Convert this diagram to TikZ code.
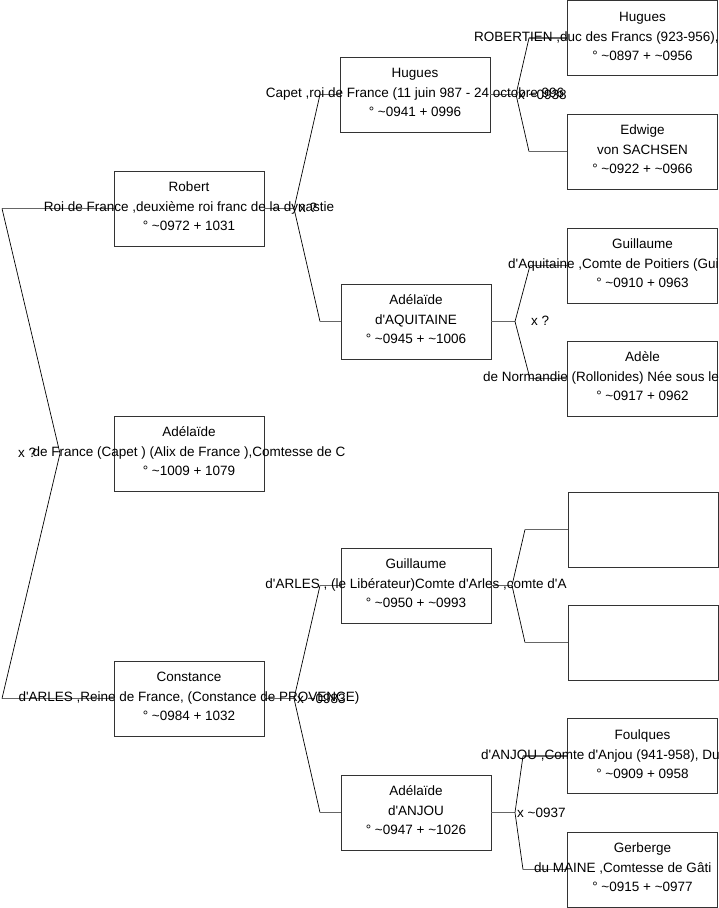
\documentclass[tikz,border=0pt]{standalone}
\usepackage{fontspec}
\setmainfont{Liberation Sans}[Ligatures=TeXOff]
\begin{document}
\begin{tikzpicture}[x=1pt,y=-1pt,
  box/.style={draw=black!80, line width=0.8pt, minimum width=150pt, minimum height=75pt, inner sep=0pt},
  txt/.style={font=\fontsize{13.5}{15}\selectfont, inner sep=0pt, anchor=base},
  txtw/.style={font=\fontsize{13.5}{15}\selectfont, inner sep=0pt, anchor=base west},
  stub/.style={draw=black!60, line width=1.5pt},
  diag/.style={draw=black, line width=0.7pt},
  lbl/.style={font=\fontsize{13.5}{15}\selectfont, inner sep=0pt, anchor=base west}]
\useasboundingbox (0,0) rectangle (719,908);
\clip (0,0) rectangle (719,908);

% boxes
\node[box] (robert)    at (189,208.5) {};
\node[box] (adel)      at (189,453.5) {};
\node[box] (constance) at (189,698.5) {};
\node[box] (huguesC)   at (415,94.5) {};
\node[box] (aquit)     at (416,321.5) {};
\node[box] (garles)    at (416,585.5) {};
\node[box] (anjou)     at (416,812.5) {};
\node[box] (huguesR)   at (642.5,38) {};
\node[box] (edwige)    at (642.5,151.5) {};
\node[box] (gaquit)    at (642.5,265.5) {};
\node[box] (adele)     at (642.5,378.5) {};
\node[box] (empty1)    at (643,529.5) {};
\node[box] (empty2)    at (643,642.5) {};
\node[box] (foulques)  at (642.5,756) {};
\node[box] (gerberge)  at (642.5,869.5) {};

% root bracket
\coordinate (za) at (60,453.5);
\coordinate (zt) at (2,208.5);
\coordinate (zb) at (2,698.5);
\draw[stub] (zt) -- (robert.west);
\draw[stub] (zb) -- (constance.west);
\draw[diag] (zt) -- (za) -- (zb);

% Robert's parents
\coordinate (ra) at (294,208.5);
\coordinate (rt) at (320,94.5);
\coordinate (rb) at (320,321.5);
\draw[stub] (robert.east) -- (ra);
\draw[diag] (rt) -- (ra) -- (rb);
\draw[stub] (rt) -- (huguesC.west);
\draw[stub] (rb) -- (aquit.west);

% Constance's parents
\coordinate (ca) at (294,698.5);
\coordinate (ct) at (320,585.5);
\coordinate (cb) at (320,812.5);
\draw[stub] (constance.east) -- (ca);
\draw[diag] (ct) -- (ca) -- (cb);
\draw[stub] (ct) -- (garles.west);
\draw[stub] (cb) -- (anjou.west);

% Hugues Capet's parents
\coordinate (ha) at (516,94.5);
\coordinate (ht) at (529,38);
\coordinate (hb) at (529,151.5);
\draw[stub] (huguesC.east) -- (ha);
\draw[diag] (ht) -- (ha) -- (hb);
\draw[stub] (ht) -- (huguesR.west);
\draw[stub] (hb) -- (edwige.west);

% Adelaide d'Aquitaine's parents
\coordinate (aa) at (515,321.5);
\coordinate (at1) at (530,265.5);
\coordinate (ab) at (530,378.5);
\draw[stub] (aquit.east) -- (aa);
\draw[diag] (at1) -- (aa) -- (ab);
\draw[stub] (at1) -- (gaquit.west);
\draw[stub] (ab) -- (adele.west);

% Guillaume d'Arles's parents
\coordinate (ga) at (512,585.5);
\coordinate (gt) at (525,529.5);
\coordinate (gb) at (525,642.5);
\draw[stub] (garles.east) -- (ga);
\draw[diag] (gt) -- (ga) -- (gb);
\draw[stub] (gt) -- (empty1.west);
\draw[stub] (gb) -- (empty2.west);

% Adelaide d'Anjou's parents
\coordinate (na) at (515,812.5);
\coordinate (nt) at (523,756);
\coordinate (nb) at (523,869.5);
\draw[stub] (anjou.east) -- (na);
\draw[diag] (nt) -- (na) -- (nb);
\draw[stub] (nt) -- (foulques.west);
\draw[stub] (nb) -- (gerberge.west);

% texts
\node[txt] at ([yshift=17pt]robert.center) {Robert};
\node[txt] at ([yshift=-3pt]robert.center) {Roi de France ,deuxième roi franc de la dynastie};
\node[txt] at ([yshift=-22pt]robert.center) {° \textasciitilde0972 + 1031};

\node[txt] at ([yshift=17pt]adel.center) {Adélaïde};
\node[txt] at ([yshift=-3pt]adel.center) {de France (Capet ) (Alix de France ),Comtesse de C};
\node[txt] at ([yshift=-22pt]adel.center) {° \textasciitilde1009 + 1079};

\node[txt] at ([yshift=17pt]constance.center) {Constance};
\node[txt] at ([yshift=-3pt]constance.center) {d'ARLES ,Reine de France, (Constance de PROVENCE)};
\node[txt] at ([yshift=-22pt]constance.center) {° \textasciitilde0984 + 1032};

\node[txt] at ([yshift=17pt]huguesC.center) {Hugues};
\node[txt] at ([yshift=-3pt]huguesC.center) {Capet ,roi de France (11 juin 987 - 24 octobre 996};
\node[txt] at ([yshift=-22pt]huguesC.center) {° \textasciitilde0941 + 0996};

\node[txt] at ([yshift=17pt]aquit.center) {Adélaïde};
\node[txt] at ([yshift=-3pt]aquit.center) {d'AQUITAINE};
\node[txt] at ([yshift=-22pt]aquit.center) {° \textasciitilde0945 + \textasciitilde1006};

\node[txt] at ([yshift=17pt]garles.center) {Guillaume};
\node[txt] at ([yshift=-3pt]garles.center) {d'ARLES , (le Libérateur)Comte d'Arles ,comte d'A};
\node[txt] at ([yshift=-22pt]garles.center) {° \textasciitilde0950 + \textasciitilde0993};

\node[txt] at ([yshift=17pt]anjou.center) {Adélaïde};
\node[txt] at ([yshift=-3pt]anjou.center) {d'ANJOU};
\node[txt] at ([yshift=-22pt]anjou.center) {° \textasciitilde0947 + \textasciitilde1026};

\node[txt] at ([yshift=17pt]huguesR.center) {Hugues};
\node[txtw] at (474,41) {ROBERTIEN ,duc des Francs (923-956),};
\node[txt] at ([yshift=-22pt]huguesR.center) {° \textasciitilde0897 + \textasciitilde0956};

\node[txt] at ([yshift=17pt]edwige.center) {Edwige};
\node[txt] at ([yshift=-3pt]edwige.center) {von SACHSEN};
\node[txt] at ([yshift=-22pt]edwige.center) {° \textasciitilde0922 + \textasciitilde0966};

\node[txt] at ([yshift=17pt]gaquit.center) {Guillaume};
\node[txtw] at (508,268.5) {d'Aquitaine ,Comte de Poitiers (Guillau};
\node[txt] at ([yshift=-22pt]gaquit.center) {° \textasciitilde0910 + 0963};

\node[txt] at ([yshift=17pt]adele.center) {Adèle};
\node[txtw] at (483,381.5) {de Normandie (Rollonides) Née sous le};
\node[txt] at ([yshift=-22pt]adele.center) {° \textasciitilde0917 + 0962};

\node[txt] at ([yshift=17pt]foulques.center) {Foulques};
\node[txtw] at (481,759) {d'ANJOU ,Comte d'Anjou (941-958), Duc};
\node[txt] at ([yshift=-22pt]foulques.center) {° \textasciitilde0909 + 0958};

\node[txt] at ([yshift=17pt]gerberge.center) {Gerberge};
\node[txtw] at (534,872.5) {du MAINE ,Comtesse de Gâti};
\node[txt] at ([yshift=-22pt]gerberge.center) {° \textasciitilde0915 + \textasciitilde0977};

% marriage labels
\node[lbl] (l0) at (18,457) {x ?};
\node[lbl] (l1) at (299,212) {x ?};
\node[lbl] (l2) at (518,99) {x \textasciitilde0938};
\node[lbl] (l3) at (531,325) {x ?};
\node[lbl] (l4) at (297,703) {x \textasciitilde0983};
\node[lbl] (l5) at (517,817) {x \textasciitilde0937};
\end{tikzpicture}
\end{document}
